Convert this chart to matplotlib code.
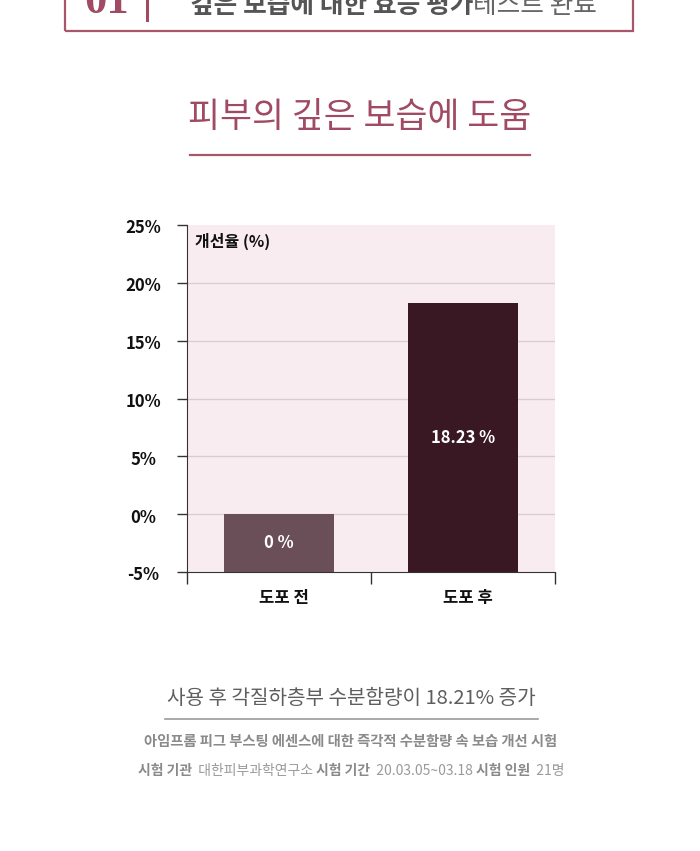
import matplotlib
matplotlib.use('Agg')
import matplotlib.pyplot as plt
from matplotlib.lines import Line2D
from matplotlib.patches import Rectangle
from matplotlib.transforms import blended_transform_factory

plt.rcParams['font.family'] = ['Noto Sans CJK KR', 'DejaVu Sans']

categories = ['도포 전', '도포 후']
values = [0, 18.23]
value_labels = ['0 %', '18.23 %']
yticks = [-5, 0, 5, 10, 15, 20, 25]
ytick_labels = ['-5%', '0%', '5%', '10%', '15%', '20%', '25%']

W, H = 700, 851
ROSE = '#a04a63'
fig = plt.figure(figsize=(W / 100, H / 100), dpi=100)
fig.patch.set_facecolor('white')


def fx(x):
    return x / W


def fy(y):
    return 1 - y / H


def hline(x0, x1, y, color, lw=1.2):
    fig.add_artist(Line2D([fx(x0), fx(x1)], [fy(y), fy(y)], color=color, lw=lw,
                          transform=fig.transFigure))


def pieces(parts, x0, y, size, center=True, va='center'):
    # parts: list of (text, weight, color); laid out in a row
    r = fig.canvas.get_renderer()
    arts = []
    x = 0
    for s, w, c in parts:
        t = fig.text(0, fy(y), s, fontsize=size, fontweight=w, color=c, va=va)
        wd = t.get_window_extent(r).width
        arts.append((t, x))
        x += wd
    start = x0 - x / 2 if center else x0
    for t, off in arts:
        t.set_x(fx(start + off))


# header box, cut off at the top of the image
fig.add_artist(Rectangle((fx(65), fy(31)), fx(633) - fx(65), 0.1, fill=False,
                         edgecolor='#a8566c', lw=1.6, transform=fig.transFigure,
                         clip_on=False))
fig.text(fx(84), fy(13), '01', fontsize=32, fontweight='bold', color=ROSE,
         family=['Liberation Serif'], va='baseline')
fig.add_artist(Line2D([fx(147), fx(147)], [fy(-5), fy(20)], color=ROSE, lw=2.2,
                      transform=fig.transFigure))
pieces([('깊은 보습에 대한 효능 평가', 'bold', '#555555'),
        ('테스트 완료', 'normal', '#666666')], 190, 13, 18.5, center=False,
       va='baseline')

# title
fig.text(fx(360), fy(118), '피부의 깊은 보습에 도움', fontsize=25, color=ROSE,
         ha='center', va='center')
hline(190, 530, 155, '#a8566c', 1.6)

# chart
ax = fig.add_axes([fx(187), fy(572), fx(555) - fx(187), (572 - 225) / H])
ax.set_facecolor('#f9ecf1')
ax.set_xlim(0, 2)
ax.set_ylim(-5, 25)
for y in yticks[1:-1]:
    ax.axhline(y, color='#dccbd0', lw=1.0, zorder=1)
ax.bar([0.5, 1.5], [v + 5 for v in values], bottom=-5, width=0.6,
       color=['#6b4f58', '#3a1823'], zorder=2)
for i, (v, lab) in enumerate(zip(values, value_labels)):
    ax.text(0.5 + i, (v - 5) / 2, lab, color='white', fontsize=12,
            fontweight='bold', ha='center', va='center', zorder=3)

for s in ['top', 'right']:
    ax.spines[s].set_visible(False)
ax.spines['left'].set_color('#333333')
ax.spines['bottom'].set_color('#333333')
ax.set_xticks([0, 1, 2])
ax.set_xticklabels([])
ax.tick_params(axis='x', direction='out', length=8.5, width=1, color='#333333')
ax.set_yticks(yticks)
ax.set_yticklabels([])
ax.tick_params(axis='y', direction='out', length=7, width=1, color='#333333')

tr = blended_transform_factory(fig.transFigure, ax.transData)
for y, lab in zip(yticks, ytick_labels):
    ax.text(fx(143), y - 0.3, lab, transform=tr, ha='center', va='center',
            fontsize=12, fontweight='bold', color='#111111')
for i, c in enumerate(categories):
    fig.text(fx(284 + i * 184), fy(598), c, ha='center', va='center', fontsize=12,
             fontweight='bold', color='#111111')
ax.text(fx(195), fy(241), '개선율 (%)', transform=fig.transFigure, fontsize=11.5,
        fontweight='bold', color='#111111', va='center')

# footer
fig.text(fx(351), fy(698), '사용 후 각질하층부 수분함량이 18.21% 증가', fontsize=14.5,
         fontweight='medium', color='#5e5e5e', ha='center', va='center')
hline(165, 538, 719, '#9a9a9a', 1.2)
fig.text(fx(351), fy(742), '아임프롬 피그 부스팅 에센스에 대한 즉각적 수분함량 속 보습 개선 시험',
         fontsize=10.3, fontweight='bold', color='#8a8a8a', ha='center', va='center')
B, N = '#8a8a8a', '#9a9a9a'
pieces([('시험 기관', 'bold', B), ('  대한피부과학연구소 ', 'normal', N),
        ('시험 기간', 'bold', B), ('  20.03.05~03.18 ', 'normal', N),
        ('시험 인원', 'bold', B), ('  21명', 'normal', N)], 351, 771, 10)

fig.savefig('out.png', dpi=100, facecolor='white')
